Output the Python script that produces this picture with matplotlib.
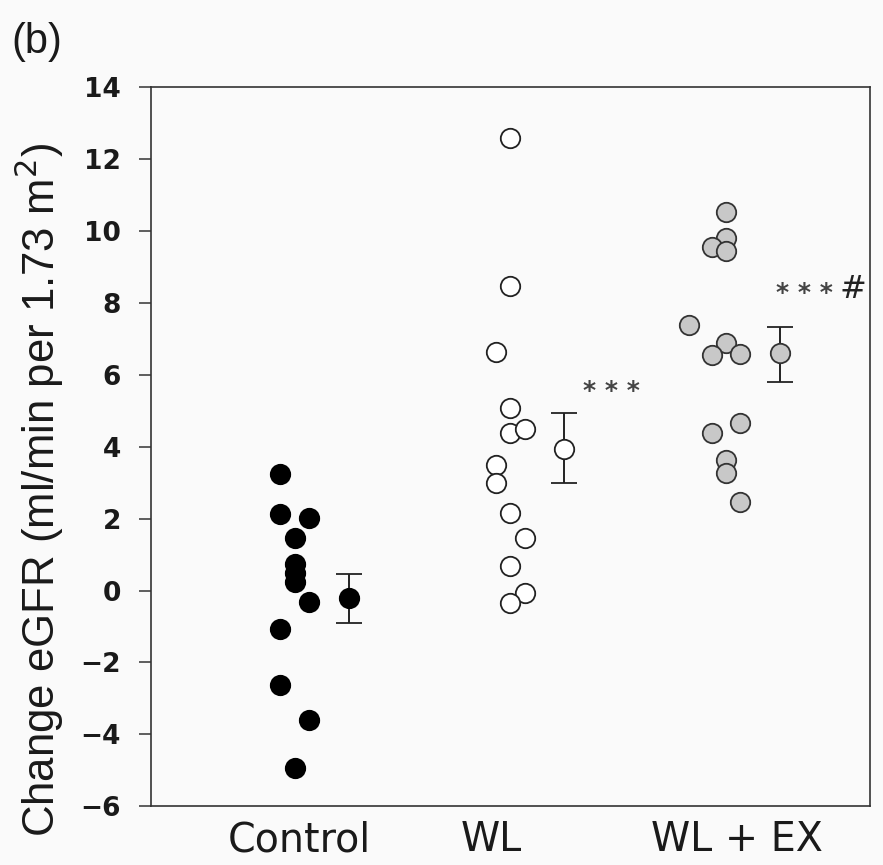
import matplotlib.pyplot as plt

# group labels and per-point values (change in eGFR)
groups = ["Control", "WL", "WL + EX"]

control = [3.23, 2.14, 2.03, 1.45, 0.75, 0.5, 0.25, -0.33, -1.06, -2.64, -3.59, -4.95]
control_jit = [-1, -1, 1, 0, 0, 0, 0, 1, -1, -1, 1, 0]

wl = [12.6, 8.48, 6.65, 5.09, 4.39, 4.5, 3.48, 2.98, 2.17, 1.45, 0.67, -0.08, -0.36]
wl_jit = [0, 0, -1, 0, 0, 1, -1, -1, 0, 1, 0, 1, 0]

wlex = [10.54, 9.82, 9.57, 9.46, 7.40, 6.9, 6.56, 6.59, 4.67, 4.37, 3.62, 3.28, 2.45]
wlex_jit = [0, 0, -1, 0, -2.6, 0, -1, 1, 1, -1, 0, 0, 1]

means = [-0.22, 3.95, 6.62]
err_hi = [0.47, 4.95, 7.34]
err_lo = [-0.89, 2.98, 5.79]

centers = [2.0, 5.0, 8.0]
label_x = [2.07, 4.73, 8.15]
step = 0.2
mean_off = 0.75

fig = plt.figure(figsize=(8.83, 8.65), dpi=100, facecolor="#fafafa")
ax = fig.add_axes([0.171, 0.068, 0.814, 0.831])
ax.set_facecolor("#fafafa")

styles = [dict(mfc="black", mec="black"),
          dict(mfc="white", mec="#222222"),
          dict(mfc="#c8c8c8", mec="#333333")]
data = [(control, control_jit), (wl, wl_jit), (wlex, wlex_jit)]

for i, (vals, jit) in enumerate(data):
    xs = [centers[i] + j * step for j in jit]
    ax.plot(xs, vals, "o", ms=14, mew=1.3, ls="none", **styles[i], zorder=3)
    m = means[i]
    ax.errorbar(centers[i] + mean_off, m,
                yerr=[[m - err_lo[i]], [err_hi[i] - m]],
                fmt="o", ms=14, mew=1.3, ecolor="#222222", elinewidth=1.4,
                capsize=9.5, capthick=1.4, **styles[i], zorder=3)

# significance marks
ax.text(6.01, 5.54, "* * *", fontsize=18, color="#444444", fontweight="bold",
        ha="left", va="center", family="DejaVu Sans")
ax.text(8.69, 8.29, "* * *", fontsize=18, color="#444444", fontweight="bold",
        ha="left", va="center", family="DejaVu Sans")
ax.text(9.58, 8.37, "#", fontsize=23, color="#222222",
        ha="left", va="center", family="DejaVu Sans")

ax.set_xlim(0, 10)
ax.set_ylim(-6, 14)
yt = list(range(-6, 15, 2))
ax.set_yticks(yt)
ax.set_yticklabels([("\u2212" + str(-v)) if v < 0 else str(v) for v in yt],
                   family="DejaVu Sans", fontweight="bold")
ax.tick_params(axis="y", length=8.6, width=1.1, color="#333333", labelsize=19,
               pad=13, labelcolor="#1a1a1a")
ax.set_xticks(label_x)
ax.set_xticklabels(groups, fontsize=28.5, family="DejaVu Sans", color="#1a1a1a")
ax.tick_params(axis="x", length=0, pad=10)
for s in ax.spines.values():
    s.set_linewidth(1.2)
    s.set_color("#333333")

ax.set_ylabel("Change eGFR (ml/min per 1.73 m$^2$)", fontsize=31.5,
              family="Liberation Sans", color="#1a1a1a")
ax.yaxis.set_label_coords(-0.118, 0.44)

fig.text(0.013, 0.975, "(b)", fontsize=30, family="Liberation Sans",
         color="#1a1a1a", ha="left", va="top")

fig.savefig("out.png", dpi=100, facecolor=fig.get_facecolor())
